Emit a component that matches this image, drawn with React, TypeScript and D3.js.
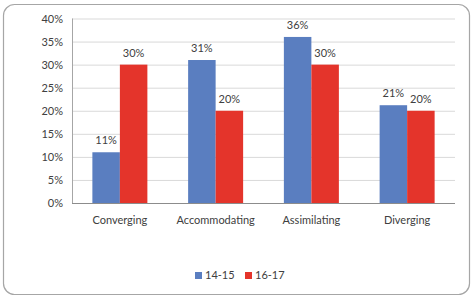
import React from "react";
import * as d3 from "d3";

const categories = ["Converging", "Accommodating", "Assimilating", "Diverging"];
const series = ["14-15", "16-17"];
const values1415 = [11, 31, 36, 21.2];
const values1617 = [30, 20, 30, 20];
const labels1415 = ["11%", "31%", "36%", "21%"];
const labels1617 = ["30%", "20%", "30%", "20%"];
const yTicks = [0, 5, 10, 15, 20, 25, 30, 35, 40];
const colors = ["#5A7EC0", "#E4342B"];

export default function App() {
  const W = 474, H = 299;
  const left = 72, right = 455, top = 18.5, bottom = 203;
  const x = d3.scaleBand().domain(categories).range([left, right]).padding(0);
  const y = d3.scaleLinear().domain([0, 40]).range([bottom, top]);
  const bw = x.step() * 0.2872;
  const font = "Lato, 'Open Sans', sans-serif";
  const data = [values1415, values1617];
  const labs = [labels1415, labels1617];
  return (
    <svg width={W} height={H} style={{ position: "absolute", left: 0, top: 0 }}>
      <rect x={0} y={0} width={W} height={H} fill="#fff" />
      <rect x={3.5} y={4.5} width={466} height={290} rx={11} fill="#fff" stroke="#a6a6a6" strokeWidth={1.2} />
      {yTicks.map((t) => (
        <g key={t}>
          {t > 0 && <line x1={left} x2={right} y1={y(t) + 0.5} y2={y(t) + 0.5} stroke="#d9d9d9" />}
          <text x={63} y={y(t) + 4} textAnchor="end" fontFamily={font} fontSize={11} fill="#404040">{t}%</text>
        </g>
      ))}
      {categories.map((c, i) => {
        const cx = (x(c) as number) + x.step() / 2;
        return (
          <g key={c}>
            {data.map((vals, s) => {
              const bx = cx - bw + s * bw;
              return (
                <g key={s}>
                  <rect x={bx} y={y(vals[i])} width={bw} height={bottom - y(vals[i])} fill={colors[s]} />
                  <text x={bx + bw / 2} y={y(vals[i]) - 8} textAnchor="middle" fontFamily={font} fontSize={11} fill="#404040">{labs[s][i]}</text>
                </g>
              );
            })}
            <text x={cx} y={224} textAnchor="middle" fontFamily={font} fontSize={11} fill="#404040">{c}</text>
          </g>
        );
      })}
      <line x1={left + 0.5} x2={left + 0.5} y1={top} y2={bottom} stroke="#a6a6a6" />
      <line x1={left} x2={right} y1={bottom + 0.5} y2={bottom + 0.5} stroke="#8c8c8c" />
      {series.map((s, i) => {
        const lx = i === 0 ? 195 : 245;
        return (
          <g key={s}>
            <rect x={lx} y={272} width={7} height={7} fill={colors[i]} />
            <text x={lx + 10} y={279} fontFamily={font} fontSize={11} fill="#404040">{s}</text>
          </g>
        );
      })}
    </svg>
  );
}
